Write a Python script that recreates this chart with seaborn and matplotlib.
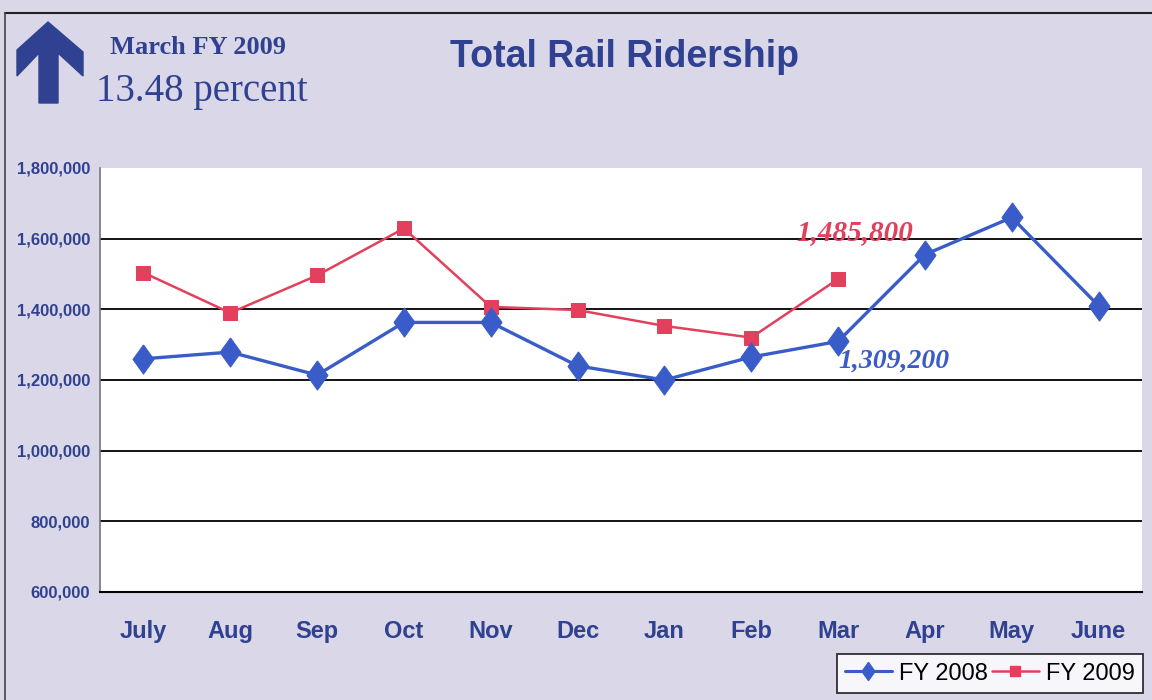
import matplotlib
matplotlib.use("Agg")
import matplotlib.pyplot as plt
import matplotlib.ticker as mticker
from matplotlib.patches import Polygon
from matplotlib.lines import Line2D
import seaborn as sns
import pandas as pd
import numpy as np

months = ["July", "Aug", "Sep", "Oct", "Nov", "Dec", "Jan", "Feb", "Mar", "Apr", "May", "June"]
fy2008 = [1260000, 1279000, 1214000, 1363000, 1363000, 1240000, 1200000, 1265000, 1309200, 1555000, 1660000, 1410000]
fy2009 = [1504000, 1390000, 1496000, 1629000, 1407000, 1398000, 1353000, 1320000, 1485800]
y_ticks = [600000, 800000, 1000000, 1200000, 1400000, 1600000, 1800000]
label_2008 = "1,309,200"
label_2009 = "1,485,800"

BG = "#d9d7e8"
NAVY = "#2f4190"
BLUE = "#3a5cc8"
RED = "#e2405c"

DIAMOND = [(0, 1), (0.72, 0), (0, -1), (-0.72, 0), (0, 1)]

sns.set_theme(style="white")
plt.rcParams["font.family"] = ["Liberation Sans", "DejaVu Sans"]

fig = plt.figure(figsize=(11.52, 7.0), dpi=100, facecolor=BG)
ax = fig.add_axes([100/1152, 1-592/700, 1042/1152, 424/700])
ax.set_facecolor("white")

df08 = pd.DataFrame({"month": months, "riders": fy2008, "pos": np.arange(len(months))})
df09 = pd.DataFrame({"month": months[:len(fy2009)], "riders": fy2009, "pos": np.arange(len(fy2009))})

sns.lineplot(data=df08, x="pos", y="riders", ax=ax, color=BLUE, linewidth=2.4,
             marker=DIAMOND, markersize=21, markeredgecolor=BLUE, sort=False, zorder=4)
sns.lineplot(data=df09, x="pos", y="riders", ax=ax, color=RED, linewidth=1.8,
             marker="s", markersize=10, markeredgecolor=RED, sort=False, zorder=3)

ax.set_xlim(-0.5, len(months) - 0.5)
ax.set_ylim(y_ticks[0], y_ticks[-1])
ax.set_yticks(y_ticks)
ax.yaxis.set_major_formatter(mticker.FuncFormatter(lambda v, p: f"{int(v):,}"))
ax.set_xticks(np.arange(len(months)))
ax.set_xticklabels(months)
ax.set_xticks(np.arange(len(months) + 1) - 0.5, minor=True)
ax.tick_params(axis="x", which="major", length=0, pad=20, labelsize=17, labelcolor=NAVY)
ax.tick_params(axis="x", which="minor", length=6, width=1.2, color="#333333", direction="out")
ax.tick_params(axis="y", which="major", length=5, width=1, color="#555555", direction="out",
               pad=2, labelsize=12, labelcolor=NAVY)
for lab in ax.get_xticklabels() + ax.get_yticklabels():
    lab.set_fontweight("bold")
ax.set_xlabel("")
ax.set_ylabel("")

for v in y_ticks[1:-1]:
    ax.axhline(v, color="black", linewidth=1.3, zorder=1)

for s in ["top", "right"]:
    ax.spines[s].set_visible(False)
ax.spines["left"].set_color("#777777")
ax.spines["left"].set_linewidth(1.2)
ax.spines["bottom"].set_color("black")
ax.spines["bottom"].set_linewidth(1.5)

# data labels for March
ax.annotate(label_2009, xy=(8, fy2009[8]), xytext=(-30, 24), textcoords="offset points",
            ha="left", va="bottom", color=RED, fontsize=21, fontstyle="italic",
            fontweight="bold", family="Liberation Serif")
ax.annotate(label_2008, xy=(8, fy2008[8]), xytext=(0, -5), textcoords="offset points",
            ha="left", va="top", color=BLUE, fontsize=20, fontstyle="italic",
            fontweight="bold", family="Liberation Serif")

# titles
fig.text(624/1152, 1-57/700, "Total Rail Ridership", ha="center", va="center",
         fontsize=27, fontweight="bold", color=NAVY)
fig.text(110/1152, 1-48/700, "March FY 2009", ha="left", va="center",
         fontsize=19, fontweight="bold", color=NAVY, family="Liberation Serif")
fig.text(96/1152, 1-92/700, "13.48 percent", ha="left", va="center",
         fontsize=28, color=NAVY, family="Liberation Serif")

# up arrow
arrow_px = [(48, 22), (83, 52), (83, 76), (58, 53), (58, 103), (39, 103),
            (39, 53), (17, 76), (17, 50)]
arrow = Polygon([(x/1152, 1-y/700) for x, y in arrow_px], closed=True,
                transform=fig.transFigure, facecolor=NAVY, edgecolor=NAVY)
fig.patches.append(arrow)

# outer frame lines
fig.add_artist(Line2D([5/1152, 1], [1-13/700, 1-13/700], transform=fig.transFigure,
                      color="#222222", linewidth=1.5))
fig.add_artist(Line2D([5/1152, 5/1152], [0, 1-13/700], transform=fig.transFigure,
                      color="#444444", linewidth=1.2))

# legend
handles = [Line2D([], [], color=BLUE, marker=DIAMOND, markersize=13, linewidth=2.2, label="FY 2008"),
           Line2D([], [], color=RED, marker="s", markersize=7, linewidth=1.8, label="FY 2009")]
leg = fig.legend(handles=handles, loc="lower right", bbox_to_anchor=(1143/1152, 7/700),
                 ncol=2, frameon=True, fancybox=False, fontsize=17, handlelength=2.0,
                 handletextpad=0.3, columnspacing=0.15, borderpad=0.35, borderaxespad=0)
leg.get_frame().set_edgecolor("black")
leg.get_frame().set_linewidth(1.3)
leg.get_frame().set_facecolor("white")
for t in leg.get_texts():
    t.set_color("black")

fig.savefig("out.png", dpi=100, facecolor=BG)
